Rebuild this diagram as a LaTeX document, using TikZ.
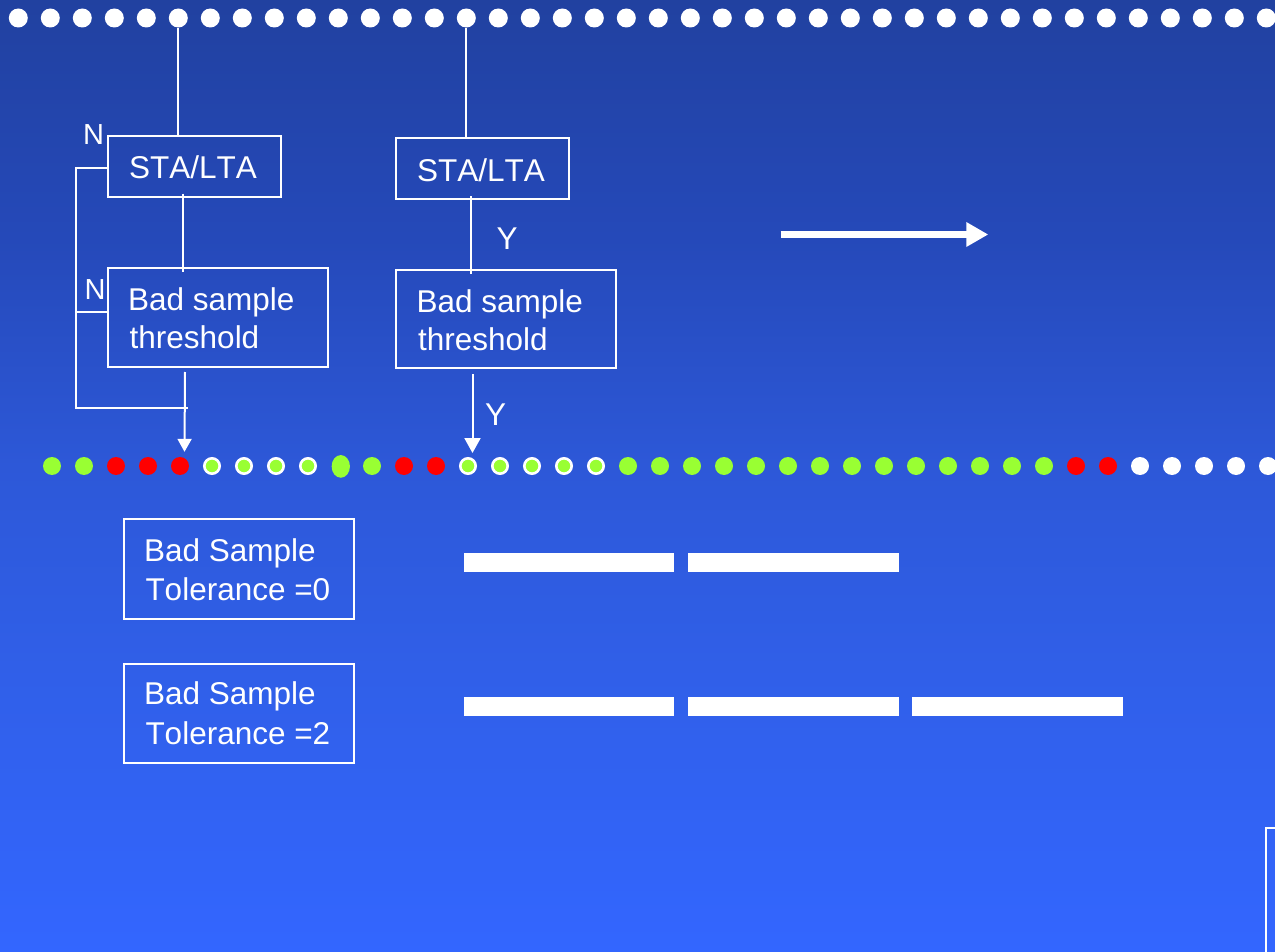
\documentclass[tikz,border=0pt]{standalone}
\usepackage{fontspec}
\setmainfont{Liberation Sans}[Kerning=Off]
\usetikzlibrary{arrows.meta,calc,shapes.geometric}
\definecolor{bgtop}{HTML}{2141A0}
\definecolor{bgq}{HTML}{2549B9}
\definecolor{bgmid}{HTML}{2D58D8}
\definecolor{bgl}{HTML}{305FE8}
\definecolor{bgbot}{HTML}{3366FF}
\definecolor{dgreen}{HTML}{99FF33}
\definecolor{dred}{HTML}{FF0000}
\pgfdeclareverticalshading{bgshade}{100bp}{color(0bp)=(bgbot); color(25bp)=(bgbot); color(40bp)=(bgl); color(50.5bp)=(bgmid); color(62.6bp)=(bgq); color(75bp)=(bgtop); color(100bp)=(bgtop)}
\tikzset{
  boxnode/.style={draw=white, line width=2pt, inner sep=0pt, fill=none},
  txt/.style={text=white, font=\fontsize{31.5}{38}\selectfont, inner sep=0pt, anchor=base west},
  lbl/.style={text=white, font=\fontsize{29}{35}\selectfont, inner sep=0pt, anchor=base west},
  conn/.style={draw=white, line width=2pt},
  tdot/.style={circle, fill=white, draw=none, minimum size=19pt, inner sep=0pt},
  gdot/.style={circle, fill=dgreen, draw=none, minimum size=18pt, inner sep=0pt},
  rdot/.style={circle, fill=dred, draw=none, minimum size=18pt, inner sep=0pt},
  wdot/.style={circle, fill=white, draw=none, minimum size=18pt, inner sep=0pt},
  odot/.style={circle, fill=dgreen, draw=white, line width=2.6pt, minimum size=15.4pt, inner sep=0pt},
  bar/.style={rectangle, fill=white, draw=none, inner sep=0pt, minimum width=210.7pt, minimum height=18.7pt},
}
\begin{document}
\begin{tikzpicture}[x=1pt,y=-1pt]
\useasboundingbox (0,0) rectangle (1275,952);
\clip (0,0) rectangle (1275,952);
\shade[shading=bgshade] (0,0) rectangle (1275,952);

% top row of dots
\foreach \k in {0,...,39} \node[tdot] (t\k) at ({18.3+32*\k},18) {};

% boxes
\node[boxnode, minimum width=172.4pt, minimum height=61.3pt] (sta1) at (194.5,166.7) {};
\node[boxnode, minimum width=220pt, minimum height=98.4pt] (bs1) at (218.3,317.5) {};
\node[boxnode, minimum width=173pt, minimum height=61pt] (sta2) at (482.5,168.8) {};
\node[boxnode, minimum width=220pt, minimum height=98.3pt] (bs2) at (506,319.2) {};
\node[boxnode, minimum width=230pt, minimum height=99.7pt] (tol0) at (239,569.2) {};
\node[boxnode, minimum width=230pt, minimum height=98.7pt] (tol2) at (239,713.3) {};
\node[boxnode, minimum width=100pt, minimum height=200pt, anchor=north west] (pb) at (1264.5,826.7) {};

% box texts
\node[txt] (sta1t) at (129,178.3) {STA/LTA};
\node[txt] (sta2t) at (417,181.7) {STA/LTA};
\node[txt] (bs1a) at (128,310) {Bad sample};
\node[txt] (bs1b) at (129.5,348.3) {threshold};
\node[txt] (bs2a) at (416.3,312.7) {Bad sample};
\node[txt] (bs2b) at (417.8,350) {threshold};
\node[txt] (tol0a) at (144,561) {Bad Sample};
\node[txt] (tol0b) at (145.3,600.7) {Tolerance =0};
\node[txt] (tol2a) at (144,704) {Bad Sample};
\node[txt] (tol2b) at (145.3,744.3) {Tolerance =2};

% labels
\node[lbl] (n1) at (83,145) {N};
\node[lbl] (n2) at (84.5,299.3) {N};
\node[txt] (y1) at (496.5,249.3) {Y};
\node[txt] (y2) at (485,425) {Y};

% middle row of dots
\foreach \k/\s in {0/gdot,1/gdot,2/rdot,3/rdot,4/rdot,5/odot,6/odot,7/odot,8/odot,10/gdot,11/rdot,12/rdot,13/odot,14/odot,15/odot,16/odot,17/odot,18/gdot,19/gdot,20/gdot,21/gdot,22/gdot,23/gdot,24/gdot,25/gdot,26/gdot,27/gdot,28/gdot,29/gdot,30/gdot,31/gdot,32/rdot,33/rdot,34/wdot,35/wdot,36/wdot,37/wdot,38/wdot}
  \node[\s] (m\k) at ({52+32*\k},466) {};
\node[ellipse, fill=dgreen, draw=none, minimum width=18.3pt, minimum height=22.7pt, inner sep=0pt] (m9) at (340.8,466.4) {};

% connectors
\draw[conn] (t5) -- (t5 |- sta1.north);
\draw[conn] (t14) -- (t14 |- sta2.north);
\draw[conn] ($(sta1.south)+(-11.8,-4.6)$) -- ($(bs1.north)+(-35.6,4.7)$);
\draw[conn] ($(sta2.south)+(-11.8,-4.3)$) -- ($(bs2.north)+(-35.3,5)$);
\coordinate (lb) at (188,407.7);
\draw[conn] (lb) -| ($(sta1.west)+(-31.6,1.6)$) -- ($(sta1.west)+(0,1.6)$);
\draw[conn] ($(bs1.west)+(0,-5.2)$) -- ++(-31.6,0);
\draw[conn, -{Triangle[width=14pt,length=13pt]}] ($(bs1.south)+(-33.3,4.3)$) -- ($(m4.north)+(4.5,-5)$);
\draw[conn, -{Triangle[width=16pt,length=15pt]}] ($(bs2.south)+(-33.5,5)$) -- ($(m13.north)+(4.5,-4)$);

% big right arrow
\coordinate (ra0) at (780.7,234.5);
\coordinate (ra1) at (988.3,234.5);
\draw[white, line width=7.6pt, -{Triangle[width=23.3pt,length=22pt]}] (ra0) -- (ra1);

% bars
\node[bar] (b01) at (569,562.7) {};
\node[bar] (b02) at (793.2,562.7) {};
\node[bar] (b21) at (569,706.3) {};
\node[bar] (b22) at (793.2,706.3) {};
\node[bar] (b23) at (1017.5,706.3) {};
\end{tikzpicture}
\end{document}
